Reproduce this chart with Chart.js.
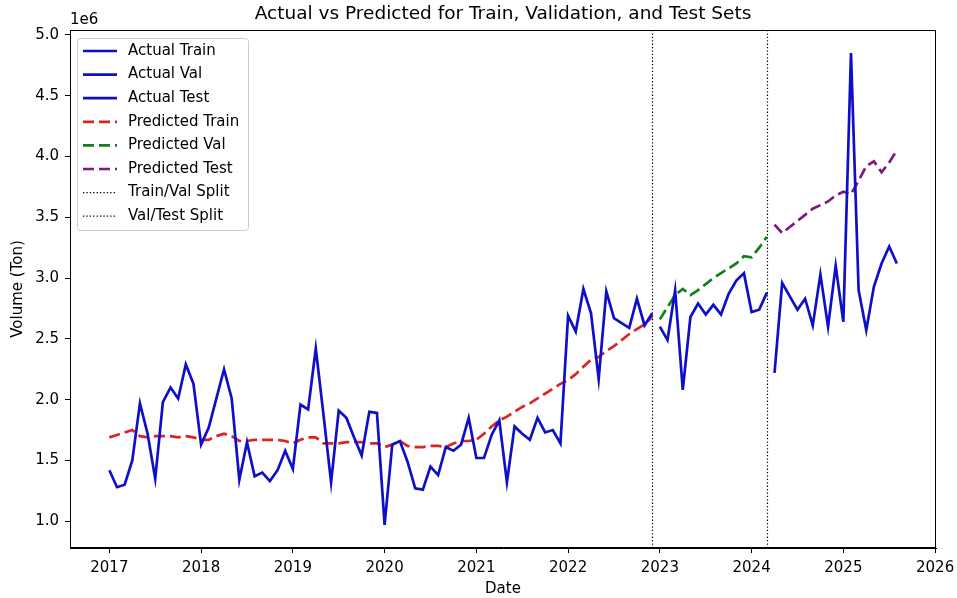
<!DOCTYPE html>
<html>
<head>
<meta charset="utf-8">
<script src="https://cdn.jsdelivr.net/npm/chart.js@4.4.1/dist/chart.umd.min.js"></script>
<style>
  html, body { margin: 0; padding: 0; background: #fff; }
</style>
</head>
<body>
<canvas id="chart" width="957" height="598"></canvas>
<script>
// monthly series, values in millions of tons (axis shows 1e6 offset)
const trainStart = [2017, 1];
const valStart = [2023, 1];
const testStart = [2024, 4];

const actualTrain = [
  1.42, 1.28, 1.30, 1.50, 1.97, 1.72, 1.35, 1.98, 2.10, 2.01, 2.29, 2.13,
  1.63, 1.77, 2.01, 2.25, 2.01, 1.34, 1.65, 1.37, 1.40, 1.33, 1.42, 1.58,
  1.43, 1.96, 1.92, 2.42, 1.88, 1.32, 1.91, 1.85, 1.69, 1.54, 1.90, 1.89,
  0.97, 1.63, 1.66, 1.49, 1.27, 1.26, 1.45, 1.38, 1.61, 1.58, 1.63, 1.85,
  1.52, 1.52, 1.71, 1.83, 1.32, 1.78, 1.72, 1.67, 1.85, 1.73, 1.75, 1.64,
  2.69, 2.56, 2.91, 2.71, 2.17, 2.89, 2.67, 2.63, 2.59, 2.83, 2.61, 2.71
];
const actualVal = [2.60, 2.49, 2.90, 2.08, 2.68, 2.79, 2.70, 2.78, 2.70, 2.87, 2.98, 3.04, 2.72, 2.74, 2.88];
const actualTest = [2.22, 2.96, 2.85, 2.74, 2.83, 2.61, 3.03, 2.60, 3.10, 2.64, 4.85, 2.90, 2.57, 2.93, 3.12, 3.26, 3.12];

const predTrain = [
  1.69, 1.71, 1.73, 1.75, 1.70, 1.69, 1.70, 1.70, 1.70, 1.69, 1.70, 1.69,
  1.67, 1.67, 1.70, 1.72, 1.70, 1.66, 1.66, 1.67, 1.67, 1.67, 1.67, 1.66,
  1.64, 1.67, 1.69, 1.69, 1.64, 1.64, 1.64, 1.65, 1.65, 1.65, 1.64, 1.64,
  1.61, 1.63, 1.66, 1.62, 1.61, 1.61, 1.62, 1.62, 1.61, 1.64, 1.66, 1.66,
  1.67, 1.72, 1.78, 1.83, 1.86, 1.90, 1.94, 1.97, 2.01, 2.05, 2.09, 2.13,
  2.16, 2.21, 2.27, 2.33, 2.35, 2.40, 2.44, 2.49, 2.54, 2.58, 2.62, 2.68
];
const predVal = [2.66, 2.76, 2.86, 2.91, 2.86, 2.90, 2.95, 3.00, 3.04, 3.08, 3.12, 3.18, 3.17, 3.25, 3.34];
const predTest = [3.44, 3.37, 3.42, 3.47, 3.52, 3.57, 3.60, 3.63, 3.68, 3.71, 3.69, 3.80, 3.92, 3.96, 3.87, 3.95, 4.05];

const xTicks = [2017, 2018, 2019, 2020, 2021, 2022, 2023, 2024, 2025, 2026];
const yTicks = [1.0, 1.5, 2.0, 2.5, 3.0, 3.5, 4.0, 4.5, 5.0];

const FONT = "'DejaVu Sans', sans-serif";
const FS = 15;
const BLUE = '#0f0fc8';
const DASH = [11, 5];
const DOT = [1.3, 2.1];

// month index -> decimal year
function toPoints(start, values) {
  return values.map((v, i) => {
    const m = start[1] - 1 + i;
    return { x: start[0] + Math.floor(m / 12) + (m % 12) / 12, y: v };
  });
}

const trainPts = toPoints(trainStart, actualTrain);
const valPts = toPoints(valStart, actualVal);
const splits = [trainPts[trainPts.length - 1].x, valPts[valPts.length - 1].x];

function line(label, start, values, color, dash) {
  return {
    label,
    data: toPoints(start, values),
    borderColor: color,
    borderWidth: 2.7,
    borderDash: dash,
    pointRadius: 0,
    tension: 0,
    fill: false
  };
}

const datasets = [
  line('Actual Train', trainStart, actualTrain, BLUE, []),
  line('Actual Val', valStart, actualVal, BLUE, []),
  line('Actual Test', testStart, actualTest, BLUE, []),
  line('Predicted Train', trainStart, predTrain, '#dd2222', DASH),
  line('Predicted Val', valStart, predVal, '#12801a', DASH),
  line('Predicted Test', testStart, predTest, '#7d1a7d', DASH)
];

const extras = {
  id: 'extras',
  beforeDatasetsDraw(chart) {
    const { ctx, chartArea: a, scales } = chart;
    ctx.save();
    ctx.strokeStyle = '#000';
    ctx.lineWidth = 1.2;
    ctx.setLineDash(DOT);
    splits.forEach(s => {
      const px = Math.round(scales.x.getPixelForValue(s)) + 0.5;
      ctx.beginPath();
      ctx.moveTo(px, a.top);
      ctx.lineTo(px, a.bottom);
      ctx.stroke();
    });
    ctx.restore();
  },
  afterDraw(chart) {
    const { ctx, chartArea: a } = chart;
    ctx.save();
    // frame
    ctx.strokeStyle = '#000';
    ctx.lineWidth = 1;
    ctx.strokeRect(a.left + 0.5, a.top + 0.5, a.right - a.left - 1, a.bottom - a.top - 1);

    // title and offset text
    ctx.fillStyle = '#000';
    ctx.font = '18.5px ' + FONT;
    ctx.textAlign = 'center';
    ctx.textBaseline = 'middle';
    ctx.fillText('Actual vs Predicted for Train, Validation, and Test Sets', (a.left + a.right) / 2, 14);
    ctx.font = FS + 'px ' + FONT;
    ctx.textAlign = 'left';
    ctx.fillText('1e6', a.left, 20);

    // legend
    const lx = 77.5, ly = 38.5, lw = 171, lh = 192;
    ctx.beginPath();
    ctx.roundRect(lx, ly, lw, lh, 3);
    ctx.fillStyle = 'rgba(255,255,255,0.8)';
    ctx.fill();
    ctx.strokeStyle = '#cccccc';
    ctx.stroke();
    const items = chart.data.datasets.map(d => ({ label: d.label, color: d.borderColor, dash: d.borderDash, w: 2.7 }));
    items.push({ label: 'Train/Val Split', color: '#000', dash: DOT, w: 1.2 });
    items.push({ label: 'Val/Test Split', color: '#000', dash: DOT, w: 1.2 });
    items.forEach((it, i) => {
      const y = 51 + i * 23.6;
      ctx.strokeStyle = it.color;
      ctx.lineWidth = it.w;
      ctx.setLineDash(it.dash);
      ctx.beginPath();
      ctx.moveTo(83, y);
      ctx.lineTo(117, y);
      ctx.stroke();
      ctx.setLineDash([]);
      ctx.fillStyle = '#000';
      ctx.textAlign = 'left';
      ctx.textBaseline = 'middle';
      ctx.fillText(it.label, 128, y);
    });
    ctx.restore();
  }
};

new Chart(document.getElementById('chart'), {
  type: 'line',
  data: { datasets },
  options: {
    responsive: false,
    animation: false,
    layout: { padding: { top: 30, right: 21, left: 0, bottom: 0 } },
    plugins: { legend: { display: false }, title: { display: false }, tooltip: { enabled: false } },
    scales: {
      x: {
        type: 'linear',
        min: 2016.571,
        max: 2026.01,
        afterBuildTicks: s => { s.ticks = xTicks.map(v => ({ value: v })); },
        afterFit: s => { s.height = 50; s.paddingLeft = 0; s.paddingRight = 0; },
        grid: { drawOnChartArea: false, drawTicks: true, tickLength: 5, tickColor: '#000' },
        border: { display: true, color: '#000', width: 1 },
        ticks: { color: '#000', font: { family: FONT, size: FS }, padding: 6, maxRotation: 0, callback: v => String(v) },
        title: { display: true, text: 'Date', color: '#000', font: { family: FONT, size: FS }, padding: { top: 0, bottom: 0 } }
      },
      y: {
        type: 'linear',
        min: 0.78,
        max: 5.04,
        afterBuildTicks: s => { s.ticks = yTicks.map(v => ({ value: v })); },
        afterFit: s => { s.width = 70; s.paddingTop = 0; s.paddingBottom = 0; },
        grid: { drawOnChartArea: false, drawTicks: true, tickLength: 5, tickColor: '#000' },
        border: { display: true, color: '#000', width: 1 },
        ticks: { color: '#000', font: { family: FONT, size: FS }, padding: 6, callback: v => v.toFixed(1) },
        title: { display: true, text: 'Volume (Ton)', color: '#000', font: { family: FONT, size: FS }, padding: { top: 9, bottom: 0 } }
      }
    }
  },
  plugins: [extras]
});
</script>
</body>
</html>
